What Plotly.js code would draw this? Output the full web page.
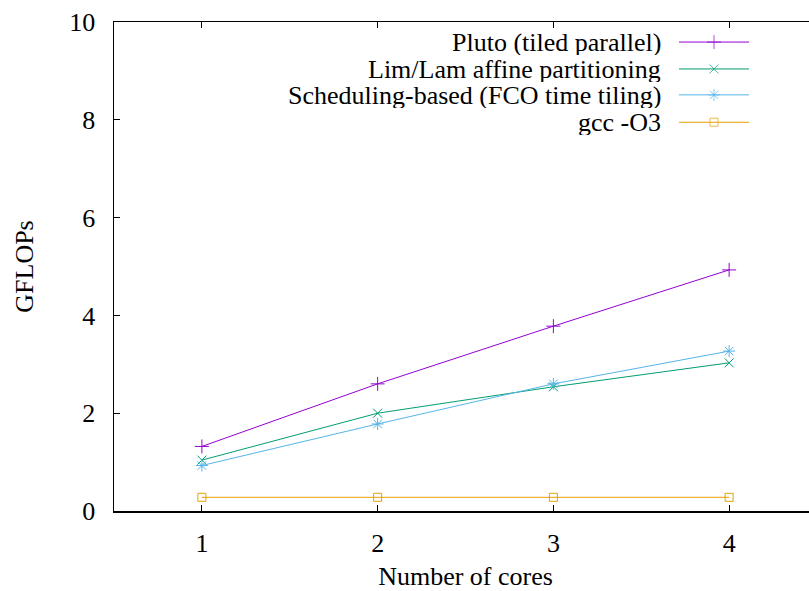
<!DOCTYPE html>
<html>
<head>
<meta charset="utf-8">
<script src="https://cdn.plot.ly/plotly-3.0.1.min.js"></script>
<style>
html,body{margin:0;padding:0;overflow:hidden;background:#fff;}
#chart{width:830px;height:591px;}
</style>
</head>
<body>
<div id="chart"></div>
<script>
// ---- data ----
const cores = [1, 2, 3, 4];
const seriesNames = [
  "Pluto (tiled parallel)",
  "Lim/Lam affine partitioning",
  "Scheduling-based (FCO time tiling)",
  "gcc -O3"
];
const pluto = [1.32, 2.60, 3.78, 4.93];
const limLam = [1.04, 2.00, 2.54, 3.03];
const scheduling = [0.93, 1.78, 2.60, 3.27];
const gcc = [0.28, 0.28, 0.28, 0.28];
const xTicks = [1, 2, 3, 4];
const yTicks = [0, 2, 4, 6, 8, 10];

// ---- styles ----
const colors = ["#9400d3", "#009e73", "#56b4e9", "#e69f00"];
const symbols = ["cross-thin-open", "x-thin-open", "asterisk-open", "square-open"];
const sizes = [10, 9, 10, 8];
const allData = [pluto, limLam, scheduling, gcc];
const FONT = "'Liberation Serif', 'Times New Roman', serif";
const FS = 26;

const traces = allData.map((ys, i) => ({
  x: cores, y: ys, type: "scatter", mode: "lines+markers",
  name: seriesNames[i], showlegend: false,
  line: {color: colors[i], width: 1},
  marker: {symbol: symbols[i], size: sizes[i], color: colors[i], line: {color: colors[i], width: 1}}
}));

// custom legend (text left of key, gnuplot style)
const legTextX = 0.7795;
const legKeyX = [0.8037, 0.8535, 0.9033];
const legY = [0.959, 0.904, 0.851, 0.795];
const annotations = [];
seriesNames.forEach((n, i) => {
  annotations.push({
    xref: "paper", yref: "paper", x: legTextX, y: legY[i],
    xanchor: "right", yanchor: "middle", showarrow: false,
    height: 26, borderpad: 0,
    text: n, font: {family: FONT, size: FS, color: "#000"}
  });
  traces.push({
    x: legKeyX, y: [legY[i], legY[i], legY[i]], xaxis: "x2", yaxis: "y2",
    type: "scatter", mode: "lines+markers", showlegend: false, hoverinfo: "skip",
    line: {color: colors[i], width: 1},
    marker: {symbol: symbols[i], size: [0, sizes[i], 0], color: colors[i], line: {color: colors[i], width: 1}}
  });
});

const layout = {
  width: 830, height: 591,
  margin: {l: 114, r: 13, t: 22, b: 80},
  paper_bgcolor: "#fff", plot_bgcolor: "#fff",
  font: {family: FONT, size: FS, color: "#000"},
  showlegend: false,
  xaxis: {
    range: [0.5, 4.5], tickvals: xTicks, ticktext: xTicks.map(String),
    ticks: "inside", ticklen: 6, tickcolor: "#000", tickwidth: 1,
    showline: true, linecolor: "#000", linewidth: 1.5, mirror: "allticks",
    showgrid: false, zeroline: false, ticklabelstandoff: 8,
    tickfont: {family: FONT, size: FS, color: "#000"},
    title: {text: "Number of cores", font: {family: FONT, size: FS, color: "#000"}, standoff: 10}
  },
  yaxis: {
    range: [0, 10], tickvals: yTicks, ticktext: yTicks.map(String),
    ticks: "inside", ticklen: 6, tickcolor: "#000", tickwidth: 1,
    showline: true, linecolor: "#000", linewidth: 1.5, mirror: "allticks",
    showgrid: false, zeroline: false, ticklabelstandoff: 12,
    tickfont: {family: FONT, size: FS, color: "#000"},
    title: {text: "GFLOPs", font: {family: FONT, size: FS, color: "#000"}, standoff: 28}
  },
  xaxis2: {overlaying: "x", range: [0, 1], visible: false, fixedrange: true},
  yaxis2: {overlaying: "y", range: [0, 1], visible: false, fixedrange: true},
  annotations: annotations
};

Plotly.newPlot("chart", traces, layout, {staticPlot: true, displayModeBar: false});
</script>
</body>
</html>
